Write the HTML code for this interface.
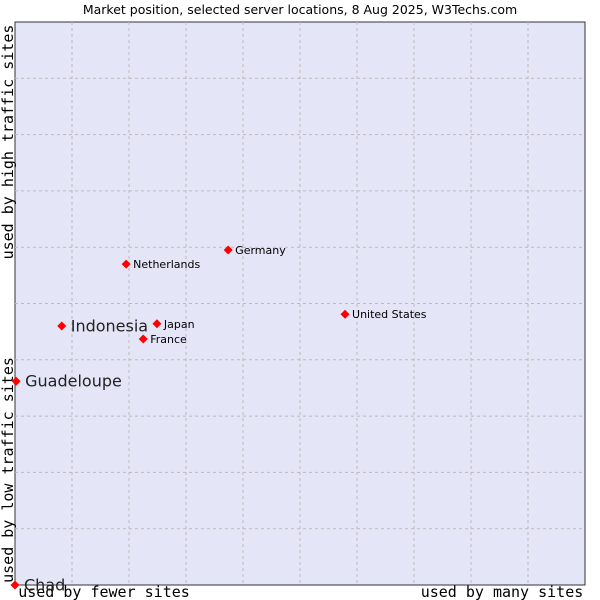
<!DOCTYPE html>
<html><head><meta charset="utf-8"><style>
body{margin:0;background:#fff;}
svg{display:block;font-family:"DejaVu Sans","Liberation Sans",sans-serif;}
</style></head><body>
<svg id="chart" width="600" height="600">
<text x="300" y="14" text-anchor="middle" font-size="12.5" fill="#000">Market position, selected server locations, 8 Aug 2025, W3Techs.com</text>
<rect x="15" y="22" width="570" height="563" fill="#e4e6f8" stroke="#333" stroke-width="1"/>
<g id="grid"></g>
<text x="104" y="597" text-anchor="middle" font-family="DejaVu Sans Mono,Liberation Mono,monospace" font-size="15">used by fewer sites</text>
<text x="502" y="597" text-anchor="middle" font-family="DejaVu Sans Mono,Liberation Mono,monospace" font-size="15">used by many sites</text>
<text transform="translate(13,470) rotate(-90)" text-anchor="middle" font-family="DejaVu Sans Mono,Liberation Mono,monospace" font-size="15">used by low traffic sites</text>
<text transform="translate(13,142) rotate(-90)" text-anchor="middle" font-family="DejaVu Sans Mono,Liberation Mono,monospace" font-size="15">used by high traffic sites</text>
<g id="points"></g>
</svg>
<script>
const names=["Chad","Guadeloupe","Indonesia","Netherlands","Japan","France","Germany","United States"];
const xValues=[0,0.2,8.2,19.5,24.9,22.5,37.4,57.9];
const yValues=[0,36.2,46.0,57.0,46.4,43.7,59.5,48.1];
const highlighted=[true,true,true,false,false,false,false,false];
const NS="http://www.w3.org/2000/svg";
const L=15,T=22,W=570,H=563;
function xs(v){return L+v/100*W;}
function ys(v){return T+H-v/100*H;}
const grid=document.getElementById('grid');
for(let i=1;i<10;i++){
 let l=document.createElementNS(NS,'line');
 
 
 l.setAttribute('x1',xs(i*10));l.setAttribute('x2',xs(i*10));l.setAttribute('y1',T);l.setAttribute('y2',T+H);
 l.setAttribute('stroke','#bbb');l.setAttribute('stroke-dasharray','3,3');grid.appendChild(l);
 let h=document.createElementNS(NS,'line');
 
 
 h.setAttribute('y1',ys(i*10));h.setAttribute('y2',ys(i*10));h.setAttribute('x1',L);h.setAttribute('x2',L+W);
 h.setAttribute('stroke','#bbb');h.setAttribute('stroke-dasharray','3,3');grid.appendChild(h);
}
const pts=document.getElementById('points');
names.forEach((n,i)=>{
 const x=xs(xValues[i]),y=ys(yValues[i]);
 const p=document.createElementNS(NS,'polygon');
 
 
 p.setAttribute('points',`${x},${y-4.5} ${x+4.5},${y} ${x},${y+4.5} ${x-4.5},${y}`);
 p.setAttribute('fill','#f00');pts.appendChild(p);
 const t=document.createElementNS(NS,'text');
 
 
 t.setAttribute('x',x+(highlighted[i]?9:7));t.setAttribute('y',y+(highlighted[i]?5.5:4));
 t.setAttribute('font-size',highlighted[i]?16:11);
 t.setAttribute('fill',highlighted[i]?'#222':'#000');
 t.textContent=n;pts.appendChild(t);
});
</script>
</body></html>
